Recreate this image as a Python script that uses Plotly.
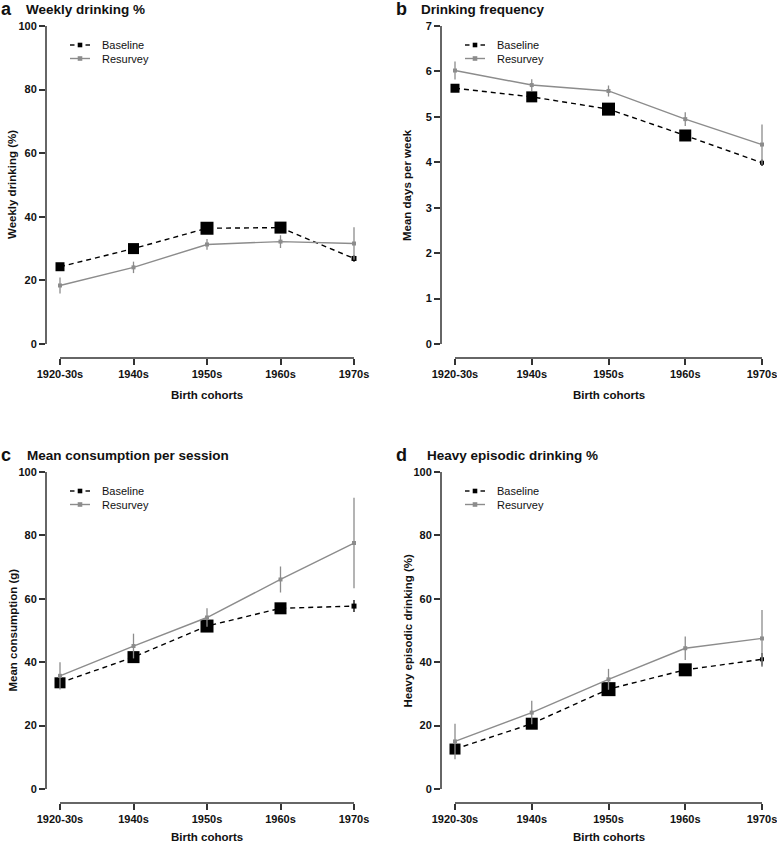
import plotly.graph_objects as go

# cohorts on the x axis
cohorts = ["1920-30s", "1940s", "1950s", "1960s", "1970s"]
xpos = [1, 2, 3, 4, 5]

# a: weekly drinking %
a_base = [24.3, 30.0, 36.4, 36.6, 26.9]
a_base_err = [0.6, 0.6, 0.6, 0.6, 1.0]
a_base_size = [9, 11, 13, 12, 5]
a_res = [18.4, 24.1, 31.3, 32.2, 31.6]
a_res_err = [2.5, 1.8, 1.7, 2.0, 5.1]

# b: drinking frequency
b_base = [5.63, 5.44, 5.17, 4.59, 3.99]
b_base_err = [0.03, 0.03, 0.03, 0.04, 0.07]
b_base_size = [9, 11, 13, 12, 4]
b_res = [6.02, 5.70, 5.57, 4.95, 4.39]
b_res_err = [0.20, 0.13, 0.12, 0.15, 0.44]

# c: mean consumption per session
c_base = [33.5, 41.6, 51.4, 57.0, 57.7]
c_base_err = [1.0, 1.0, 1.0, 1.0, 1.9]
c_base_size = [11, 12, 13, 12, 5]
c_res = [35.7, 45.1, 54.1, 66.1, 77.6]
c_res_err = [4.3, 3.9, 2.9, 4.1, 14.3]

# d: heavy episodic drinking %
d_base = [12.6, 20.6, 31.5, 37.6, 40.9]
d_base_err = [0.8, 0.8, 0.8, 0.9, 2.0]
d_base_size = [11, 12, 14, 13, 4]
d_res = [15.0, 24.1, 34.6, 44.4, 47.5]
d_res_err = [5.6, 3.7, 3.3, 3.7, 9.0]

ticks_pct = [0, 20, 40, 60, 80, 100]
ticks_days = [0, 1, 2, 3, 4, 5, 6, 7]

W, H = 777, 844
FONT = "Liberation Sans, Arial, Helvetica, sans-serif"
AX = "#333333"
BLACK = "#000000"
GREY = "#8c8c8c"


def fx(px):
    return px / W


def fy(py):
    return 1 - py / H


panels = [
    dict(letter="a", title="Weekly drinking %", ylab="Weekly drinking (%)", tdx=-22, xt=37,
         base=a_base, berr=a_base_err, bsize=a_base_size, res=a_res, rerr=a_res_err,
         ticks=ticks_pct, axx=46, t1=60, t5=354, ytop=26, y0=344, xline=358),
    dict(letter="b", title="Drinking frequency", ylab="Mean days per week", tdx=-22, xt=37,
         base=b_base, berr=b_base_err, bsize=b_base_size, res=b_res, rerr=b_res_err,
         ticks=ticks_days, axx=441, t1=455, t5=762, ytop=26, y0=344, xline=358),
    dict(letter="c", title="Mean consumption per session", ylab="Mean consumption (g)", tdx=-21, xt=34,
         base=c_base, berr=c_base_err, bsize=c_base_size, res=c_res, rerr=c_res_err,
         ticks=ticks_pct, axx=46, t1=60, t5=354, ytop=472, y0=789, xline=803),
    dict(letter="d", title="Heavy episodic drinking %", ylab="Heavy episodic drinking (%)", tdx=-16, xt=34,
         base=d_base, berr=d_base_err, bsize=d_base_size, res=d_res, rerr=d_res_err,
         ticks=ticks_pct, axx=441, t1=455, t5=762, ytop=472, y0=789, xline=803),
]

fig = go.Figure()
annotations = []
shapes = []

for i, p in enumerate(panels):
    n = "" if i == 0 else str(i + 1)
    xa, ya = "x" + n, "y" + n

    ppx = (p["t5"] - p["t1"]) / (len(xpos) - 1)
    ymax = p["ticks"][-1]
    ppy = (p["y0"] - p["ytop"]) / ymax
    right = min(p["t5"] + 0.16 * ppx, W)
    top = p["ytop"] - 0.04 * ymax * ppy
    xr = [1 - (p["t1"] - p["axx"]) / ppx, 5 + (right - p["t5"]) / ppx]
    yr = [-(p["xline"] - p["y0"]) / ppy, ymax * 1.04]

    tickfont = dict(size=11, weight="bold", color="#111", family=FONT)
    fig.update_layout(**{
        "xaxis" + n: dict(domain=[fx(p["axx"]), fx(right)], range=xr, anchor=ya,
                          tickvals=xpos, ticktext=cohorts, showgrid=False, zeroline=False,
                          showline=False, ticks="outside", ticklen=6, tickwidth=1.5,
                          tickcolor=AX, tickfont=tickfont, automargin=False,
                          ticklabeloverflow="allow"),
        "yaxis" + n: dict(domain=[fy(p["xline"]), fy(top)], range=yr, anchor=xa,
                          tickvals=p["ticks"], showgrid=False, zeroline=False,
                          showline=False, ticks="outside", ticklen=6, tickwidth=1.5,
                          tickcolor=AX, tickfont=tickfont, automargin=False),
    })

    # R-style detached axis lines
    shapes.append(dict(type="line", xref=xa + " domain", yref=ya, x0=0, x1=0,
                       y0=p["ticks"][0], y1=ymax, line=dict(color=AX, width=1.5)))
    shapes.append(dict(type="line", xref=xa, yref=ya + " domain", x0=xpos[0], x1=xpos[-1],
                       y0=0, y1=0, line=dict(color=AX, width=1.5)))

    fig.add_trace(go.Scatter(
        x=xpos, y=p["base"], xaxis=xa, yaxis=ya, mode="lines+markers", showlegend=False,
        line=dict(color=BLACK, width=1.4, dash="5px,4px"),
        marker=dict(symbol="square", size=p["bsize"], color=BLACK, opacity=1,
                    line=dict(width=0)),
        error_y=dict(type="data", array=p["berr"], color=BLACK, thickness=1.3, width=0),
        cliponaxis=False, hoverinfo="skip"))
    fig.add_trace(go.Scatter(
        x=xpos, y=p["res"], xaxis=xa, yaxis=ya, mode="lines+markers", showlegend=False,
        line=dict(color=GREY, width=1.4),
        marker=dict(symbol="square", size=4, color=GREY, opacity=1, line=dict(width=0)),
        error_y=dict(type="data", array=p["rerr"], color=GREY, thickness=1.3, width=0),
        cliponaxis=False, hoverinfo="skip"))

    # legend, drawn R-style: short line with a small square, then the label
    lx0, lx1, ltx = p["axx"] + 24, p["axx"] + 44, p["axx"] + 54
    lm = (lx0 + lx1) / 2
    for row, (name, col) in enumerate([("Baseline", BLACK), ("Resurvey", GREY)]):
        ly = p["ytop"] + 19 + 13.5 * row
        if row == 0:
            shapes.append(dict(type="line", xref="paper", yref="paper", x0=fx(lx0), x1=fx(lx0 + 4.5),
                               y0=fy(ly), y1=fy(ly), line=dict(color=col, width=1.4)))
            shapes.append(dict(type="line", xref="paper", yref="paper", x0=fx(lx1 - 4.5), x1=fx(lx1),
                               y0=fy(ly), y1=fy(ly), line=dict(color=col, width=1.4)))
        else:
            shapes.append(dict(type="line", xref="paper", yref="paper", x0=fx(lx0), x1=fx(lx1),
                               y0=fy(ly), y1=fy(ly), line=dict(color=col, width=1.4)))
        shapes.append(dict(type="rect", xref="paper", yref="paper", x0=fx(lm - 2.3), x1=fx(lm + 2.3),
                           y0=fy(ly + 2.3), y1=fy(ly - 2.3), fillcolor=col, line=dict(width=0)))
        annotations.append(dict(text=name, xref="paper", yref="paper", x=fx(ltx), y=fy(ly),
                                xanchor="left", yanchor="middle", showarrow=False,
                                font=dict(size=11, family=FONT, color="#111")))

    title_y = fy(p["ytop"] - 17)
    annotations.append(dict(text="<b>" + p["letter"] + "</b>", xref="paper", yref="paper",
                            x=fx(p["axx"] - 47), y=title_y,
                            xanchor="left", yanchor="middle", showarrow=False,
                            font=dict(size=18, family=FONT, color="#111")))
    annotations.append(dict(text="<b>" + p["title"] + "</b>", xref="paper", yref="paper",
                            x=fx(p["axx"] + p["tdx"]), y=title_y,
                            xanchor="left", yanchor="middle", showarrow=False,
                            font=dict(size=13.5, family=FONT, color="#111")))
    annotations.append(dict(text="<b>" + p["ylab"] + "</b>", xref="paper", yref="paper",
                            x=fx(p["axx"] - 34), y=fy((p["ytop"] + p["y0"]) / 2),
                            xanchor="center", yanchor="middle", textangle=-90, showarrow=False,
                            font=dict(size=11.5, family=FONT, color="#111")))
    annotations.append(dict(text="<b>Birth cohorts</b>", xref="paper", yref="paper",
                            x=fx((p["t1"] + p["t5"]) / 2), y=fy(p["xline"] + p["xt"]),
                            xanchor="center", yanchor="middle", showarrow=False,
                            font=dict(size=11.5, family=FONT, color="#111")))

fig.update_layout(
    width=W, height=H,
    margin=dict(l=0, r=0, t=0, b=0),
    paper_bgcolor="white", plot_bgcolor="white",
    font=dict(family=FONT, color="#111"),
    showlegend=False, hovermode=False,
    annotations=annotations, shapes=shapes,
)

# drop the browser's default page margin so the figure sits at the window corner
fig.write_html("out.html", config={"displayModeBar": False},
               post_script="document.body.style.margin = '0';")
